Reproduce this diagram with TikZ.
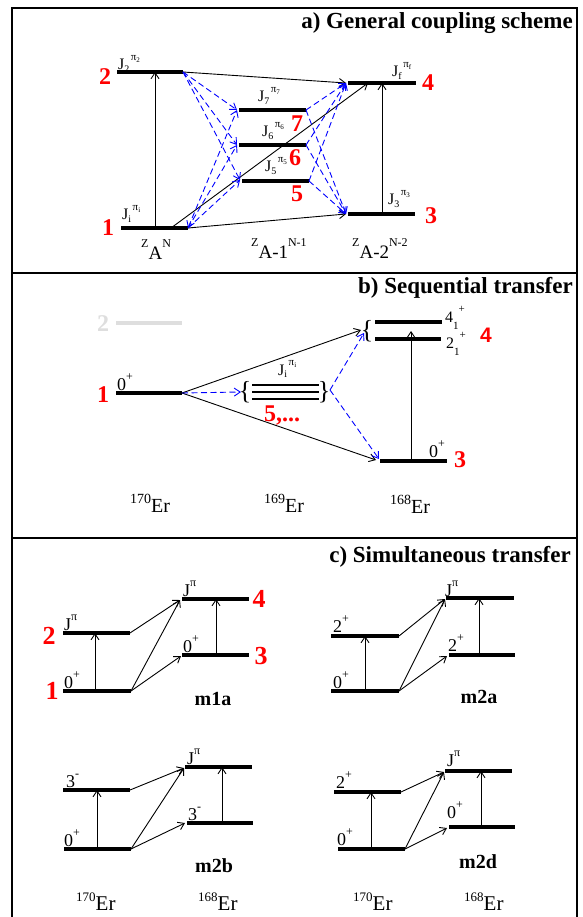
\documentclass[tikz,border=0pt]{standalone}
\usepackage{fontspec}
\setmainfont{Liberation Serif}
\newfontfamily\sansf{Liberation Sans}
\usetikzlibrary{arrows.meta}
\newcommand\fs[1]{\fontsize{#1}{#1}\selectfont}
\newcommand\Jl[2]{J\raisebox{-2.5pt}{\fs{10}#1}\hspace{1.5pt}\raisebox{9.5pt}{\fs{11}π\raisebox{-2pt}{\fs{7}#2}}}
\newcommand\Jp{J\raisebox{10pt}{\fs{12}π}}
\newcommand\lvsup[2]{#1\raisebox{10pt}{\fs{12}#2}}
\newcommand\lvsub[3]{#1\raisebox{-7pt}{\fs{11}#2}\raisebox{10pt}{\fs{11}#3}}
\newcommand\ZA[2]{\raisebox{12pt}{\fs{12}Z}#1\raisebox{12pt}{\fs{12}#2}}
\newcommand\Er[2]{\raisebox{9pt}{\fs{#2}#1}Er}
\tikzset{
  >={Straight Barb[length=6pt,width=8pt]},
  lev/.style={line width=3.2pt},
  arr/.style={->, line width=0.9pt},
  bd/.style={arr, blue, dash pattern=on 6pt off 3.5pt},
  rn/.style={text=red, font=\fs{24}\bfseries, inner sep=0pt},
  rnc/.style={text=red, font=\fs{26}\bfseries, inner sep=0pt},
  lab/.style={inner sep=0pt, anchor=base west},
  ttl/.style={font=\fs{23}\bfseries, anchor=base east, inner sep=0pt},
  mlab/.style={font=\fs{20}\bfseries, inner sep=0pt},
  frame/.style={line width=1.8pt},
}
\begin{document}
\begin{tikzpicture}[x=1pt,y=-1pt]
\useasboundingbox (0,0) rectangle (582,917);
\fill[white] (0,0) rectangle (582,917);
% frame
\draw[frame] (12,917) -- (12,8) -- (577,8) -- (577,917);
\draw[frame] (12,273) -- (577,273);
\draw[frame] (12,538) -- (577,538);

% ================= a) =================
\node[ttl] (ta) at (573,29) {a) General coupling scheme};
\coordinate (a2L) at (117,72);  \coordinate (a2R) at (183,72);
\coordinate (a1L) at (121,228); \coordinate (a1R) at (188,228);
\coordinate (a7L) at (239,110); \coordinate (a7R) at (306,110);
\coordinate (a6L) at (239,145); \coordinate (a6R) at (306,145);
\coordinate (a5L) at (242,181); \coordinate (a5R) at (309,181);
\coordinate (a4L) at (348,83);  \coordinate (a4R) at (416,83);
\coordinate (a3L) at (348,214); \coordinate (a3R) at (415,214);
\foreach \l in {a1,a2,a3,a4,a5,a6,a7} \draw[lev] (\l L) -- (\l R);
\coordinate (a1v) at (155,228); \coordinate (a2v) at (155,72);
\coordinate (a3v) at (382,214); \coordinate (a4v) at (382,83);
\coordinate (a1d) at (171,228); \coordinate (a4d) at (368,83);
\coordinate (a4t) at (346,83); \coordinate (a3t) at (346,214);
\coordinate (a7t) at (237,110); \coordinate (a6t) at (237,145); \coordinate (a5t) at (240,180);
\draw[arr] (a1v) -- (a2v);
\draw[arr] (a3v) -- (a4v);
\draw[arr] (a2R) -- (a4t);
\draw[arr] (a1d) -- (a4d);
\draw[arr] (a1R) -- (a3t);
\draw[bd] (a2R) -- (a7t);
\draw[bd] (a2R) -- (a6t);
\draw[bd] (a2R) -- (a5t);
\draw[bd,<->] (a1R) -- (a7t);
\draw[bd] (a1R) -- (a6t);
\draw[bd] (a1R) -- (a5t);
\draw[bd] (a7R) -- (a4t);
\draw[bd] (a6R) -- (a4t);
\draw[bd] (a5R) -- (a4t);
\draw[bd] (a7R) -- (a3t);
\draw[bd] (a6R) -- (a3t);
\draw[bd] (a5R) -- (a3t);
\node[lab,font=\fs{16}] (tJ2) at (118,70) {\Jl{2}{2}};
\node[lab,font=\fs{16}] (tJi) at (122,220) {\Jl{i}{i}};
\node[lab,font=\fs{16}] (tJ7) at (258,102) {\Jl{7}{7}};
\node[lab,font=\fs{16}] (tJ6) at (262,137) {\Jl{6}{6}};
\node[lab,font=\fs{16}] (tJ5) at (265,172) {\Jl{5}{5}};
\node[lab,font=\fs{16}] (tJf) at (392,77) {\Jl{f}{f}};
\node[lab,font=\fs{16}] (tJ3) at (388,205) {\Jl{3}{3}};
\node[rn] (n2a) at (105,77) {2};
\node[rn] (n1a) at (108,228) {1};
\node[rn] (n7) at (297,124) {7};
\node[rn] (n6) at (295,158) {6};
\node[rn] (n5) at (297,194) {5};
\node[rn] (n4a) at (428,83) {4};
\node[rn] (n3a) at (431,216) {3};
\node[lab,font=\fs{19}] (za0) at (141,259) {\ZA{A}{N}};
\node[lab,font=\fs{19}] (za1) at (251,258) {\ZA{A-1}{N-1}};
\node[lab,font=\fs{19}] (za2) at (352,258) {\ZA{A-2}{N-2}};

% ================= b) =================
\node[ttl] (tb) at (573,293) {b) Sequential transfer};
\coordinate (b2L) at (116,323); \coordinate (b2R) at (182,323);
\draw[lev,black!13] (b2L) -- (b2R);
\node[rn,text=black!13] (g2) at (103,324) {2};
\coordinate (b1L) at (116,393); \coordinate (b1R) at (182,393);
\draw[lev] (b1L) -- (b1R);
\node[lab,font=\fs{18}] (b0a) at (117,390) {\lvsup{0}{+}};
\node[rn] (n1b) at (103,395) {1};
\coordinate (m1L) at (252,385); \coordinate (m1R) at (319,385);
\coordinate (m2L) at (252,392); \coordinate (m2R) at (319,392);
\coordinate (m3L) at (252,399); \coordinate (m3R) at (319,399);
\draw[line width=1.3pt] (m1L) -- (m1R);
\draw[line width=1.6pt] (m2L) -- (m2R);
\draw[line width=2.6pt] (m3L) -- (m3R);
\node[inner sep=0pt,font=\fs{26}] (brL) at (245,392) {\{};
\node[inner sep=0pt,font=\fs{26}] (brR) at (324,392) {\}};
\node[lab,font=\fs{16}] (tJib) at (278,375) {\Jl{i}{i}};
\node[rn] (n5b) at (282,415) {5,...};
\coordinate (b41L) at (375,322); \coordinate (b41R) at (442,322);
\coordinate (b21L) at (375,339); \coordinate (b21R) at (441,339);
\draw[lev] (b41L) -- (b41R);
\draw[lev] (b21L) -- (b21R);
\node[inner sep=0pt,font=\fs{26}] (br4) at (367,331) {\{};
\node[lab,font=\fs{16}] (l41) at (445,322) {\lvsub{4}{1}{+}};
\node[lab,font=\fs{16}] (l21) at (446,348) {\lvsub{2}{1}{+}};
\node[rn,font=\sansf\fs{21}\bfseries] (n4b) at (486,335) {4};
\coordinate (b3L) at (380,461); \coordinate (b3R) at (447,461);
\draw[lev] (b3L) -- (b3R);
\node[lab,font=\fs{18}] (b0c) at (429,457) {\lvsup{0}{+}};
\node[rn] (n3b) at (460,460) {3};
\coordinate (b4a) at (361,330); \coordinate (b4b) at (364,333);
\coordinate (b3a) at (376,460); \coordinate (b3b) at (379,459);
\coordinate (bmL) at (241,392); \coordinate (bmR) at (330,390);
\coordinate (b3v) at (411,461); \coordinate (b2v) at (411,331);
\draw[arr] (b1R) -- (b4a);
\draw[arr] (b1R) -- (b3a);
\draw[bd] (b1R) -- (bmL);
\draw[bd] (bmR) -- (b4b);
\draw[bd] (bmR) -- (b3b);
\draw[arr] (b3v) -- (b2v);
\node[lab,font=\fs{20}] (e1) at (130,512) {\Er{170}{14}};
\node[lab,font=\fs{20}] (e2) at (264,512) {\Er{169}{14}};
\node[lab,font=\fs{20}] (e3) at (390,513) {\Er{168}{14}};

% ================= c) =================
\node[ttl] (tc) at (571,562) {c) Simultaneous transfer};
% m1a
\coordinate (c2L) at (63,633);  \coordinate (c2R) at (130,633);
\coordinate (c1L) at (63,691);  \coordinate (c1R) at (131,691);
\coordinate (c4L) at (182,599); \coordinate (c4R) at (249,599);
\coordinate (c3L) at (182,655); \coordinate (c3R) at (249,655);
\foreach \l in {c1,c2,c3,c4} \draw[lev] (\l L) -- (\l R);
\coordinate (c1v) at (95,691);  \coordinate (c2v) at (95,633);
\coordinate (c3v) at (216,655); \coordinate (c4v) at (216,599);
\coordinate (c4a) at (180,600); \coordinate (c3a) at (181,656);
\draw[arr] (c1v) -- (c2v);
\draw[arr] (c3v) -- (c4v);
\draw[arr] (c2R) -- (c4a);
\draw[arr] (c1R) -- (c4a);
\draw[arr] (c1R) -- (c3a);
\node[lab,font=\fs{18}] (c2t) at (64,630) {\Jp};
\node[lab,font=\fs{18}] (c1t) at (64,688) {\lvsup{0}{+}};
\node[lab,font=\fs{18}] (c4t) at (183,596) {\Jp};
\node[lab,font=\fs{18}] (c3t) at (183,652) {\lvsup{0}{+}};
\node[rnc] (n2c) at (49,636) {2};
\node[rnc] (n1c) at (52,691) {1};
\node[rnc] (n4c) at (259,599) {4};
\node[rnc] (n3c) at (261,656) {3};
\node[mlab] (m1a) at (213,699) {m1a};
% m2a
\coordinate (d2L) at (331,636); \coordinate (d2R) at (399,636);
\coordinate (d1L) at (331,691); \coordinate (d1R) at (399,691);
\coordinate (d4L) at (446,598); \coordinate (d4R) at (514,598);
\coordinate (d3L) at (449,655); \coordinate (d3R) at (515,655);
\foreach \l in {d1,d2,d3,d4} \draw[lev] (\l L) -- (\l R);
\coordinate (d1v) at (365,691); \coordinate (d2v) at (365,636);
\coordinate (d3v) at (479,655); \coordinate (d4v) at (479,598);
\coordinate (d4a) at (445,599); \coordinate (d3a) at (447,656);
\draw[arr] (d1v) -- (d2v);
\draw[arr] (d3v) -- (d4v);
\draw[arr] (d2R) -- (d4a);
\draw[arr] (d1R) -- (d4a);
\draw[arr] (d1R) -- (d3a);
\node[lab,font=\fs{18}] (d2t) at (333,632) {\lvsup{2}{+}};
\node[lab,font=\fs{18}] (d1t) at (333,688) {\lvsup{0}{+}};
\node[lab,font=\fs{18}] (d4t) at (445,596) {\Jp};
\node[lab,font=\fs{18}] (d3t) at (448,651) {\lvsup{2}{+}};
\node[mlab] (m2a) at (479,697) {m2a};
% m2b
\coordinate (e3L) at (63,790);  \coordinate (e3R) at (130,790);
\coordinate (e0L) at (64,849);  \coordinate (e0R) at (131,849);
\coordinate (eJL) at (185,767); \coordinate (eJR) at (252,767);
\coordinate (erL) at (187,823); \coordinate (erR) at (253,823);
\foreach \l in {e3,e0,eJ,er} \draw[lev] (\l L) -- (\l R);
\coordinate (e0v) at (97,849);  \coordinate (e3v) at (97,790);
\coordinate (erv) at (222,823); \coordinate (eJv) at (222,767);
\coordinate (eJa) at (184,768); \coordinate (era) at (185,823);
\draw[arr] (e0v) -- (e3v);
\draw[arr] (erv) -- (eJv);
\draw[arr] (e3R) -- (eJa);
\draw[arr] (e0R) -- (eJa);
\draw[arr] (e0R) -- (era);
\node[lab,font=\fs{18}] (e3t) at (66,787) {\lvsup{3}{-}};
\node[lab,font=\fs{18}] (e0t) at (64,846) {\lvsup{0}{+}};
\node[lab,font=\fs{18}] (eJt) at (187,764) {\Jp};
\node[lab,font=\fs{18}] (ert) at (188,820) {\lvsup{3}{-}};
\node[mlab] (m2b) at (214,866) {m2b};
% m2d
\coordinate (f2L) at (334,792); \coordinate (f2R) at (401,792);
\coordinate (f0L) at (338,849); \coordinate (f0R) at (405,849);
\coordinate (fJL) at (445,771); \coordinate (fJR) at (512,771);
\coordinate (frL) at (449,827); \coordinate (frR) at (515,827);
\foreach \l in {f2,f0,fJ,fr} \draw[lev] (\l L) -- (\l R);
\coordinate (f0v) at (371,849); \coordinate (f2v) at (371,792);
\coordinate (frv) at (481,827); \coordinate (fJv) at (481,771);
\coordinate (fJa) at (444,772); \coordinate (fra) at (447,828);
\draw[arr] (f0v) -- (f2v);
\draw[arr] (frv) -- (fJv);
\draw[arr] (f2R) -- (fJa);
\draw[arr] (f0R) -- (fJa);
\draw[arr] (f0R) -- (fra);
\node[lab,font=\fs{18}] (f2t) at (336,788) {\lvsup{2}{+}};
\node[lab,font=\fs{18}] (f0t) at (337,845) {\lvsup{0}{+}};
\node[lab,font=\fs{18}] (fJt) at (447,766) {\Jp};
\node[lab,font=\fs{18}] (frt) at (447,818) {\lvsup{0}{+}};
\node[mlab] (m2d) at (478,862) {m2d};
% bottom labels
\node[lab,font=\fs{21}] (g1) at (76,910) {\Er{170}{13}};
\node[lab,font=\fs{21}] (g2b) at (198,910) {\Er{168}{13}};
\node[lab,font=\fs{21}] (g3) at (353,910) {\Er{170}{13}};
\node[lab,font=\fs{21}] (g4) at (464,910) {\Er{168}{13}};
\end{tikzpicture}
\end{document}
